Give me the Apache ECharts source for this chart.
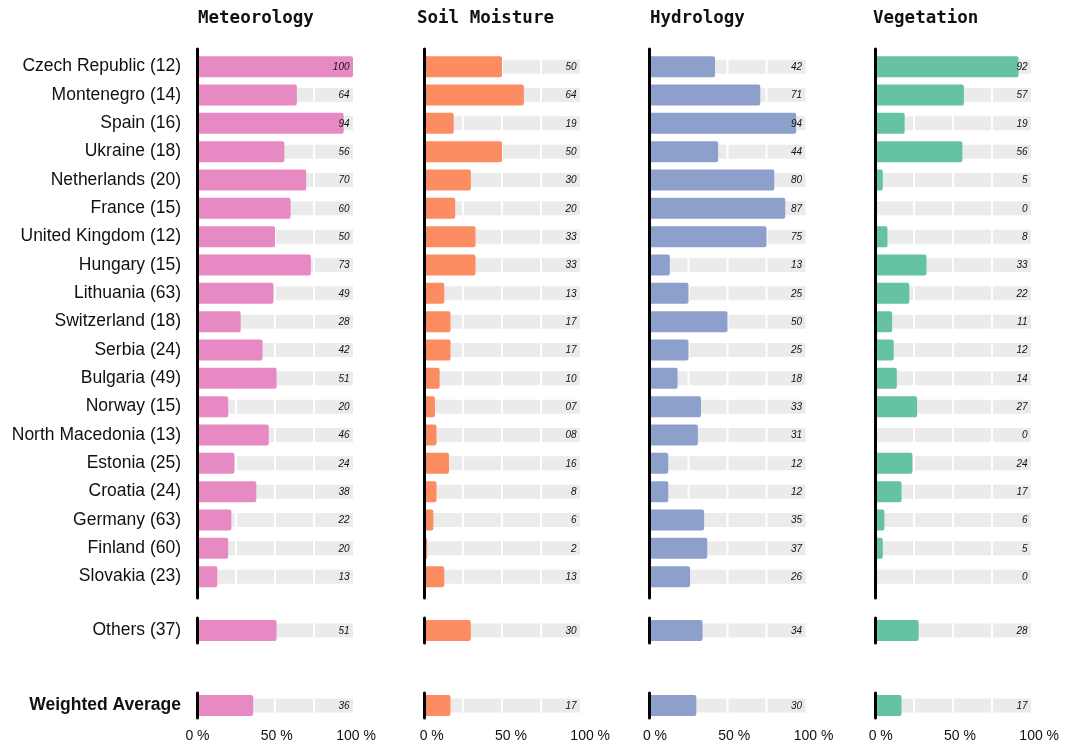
<!DOCTYPE html>
<html><head><meta charset="utf-8">
<script src="https://cdn.jsdelivr.net/npm/echarts@6/dist/echarts.min.js"></script>
<style>html,body{margin:0;padding:0;background:#fff}#c{width:1069px;height:749px}</style>
</head><body><div id="c"></div>
<script>
// ---------- data ----------
const countries = ['Czech Republic (12)','Montenegro (14)','Spain (16)','Ukraine (18)','Netherlands (20)','France (15)','United Kingdom (12)','Hungary (15)','Lithuania (63)','Switzerland (18)','Serbia (24)','Bulgaria (49)','Norway (15)','North Macedonia (13)','Estonia (25)','Croatia (24)','Germany (63)','Finland (60)','Slovakia (23)'];
const othersLabel = ['Others (37)'];
const averageLabel = ['Weighted Average'];
const panelTitles = ['Meteorology','Soil Moisture','Hydrology','Vegetation'];
const xTicks = [0, 50, 100];

const meteorology        = ['100','64','94','56','70','60','50','73','49','28','42','51','20','46','24','38','22','20','13'];
const meteorologyOthers  = ['51'];
const meteorologyAverage = ['36'];
const soilMoisture        = ['50','64','19','50','30','20','33','33','13','17','17','10','07','08','16','8','6','2','13'];
const soilMoistureOthers  = ['30'];
const soilMoistureAverage = ['17'];
const hydrology        = ['42','71','94','44','80','87','75','13','25','50','25','18','33','31','12','12','35','37','26'];
const hydrologyOthers  = ['34'];
const hydrologyAverage = ['30'];
const vegetation        = ['92','57','19','56','5','0','8','33','22','11','12','14','27','0','24','17','6','5','0'];
const vegetationOthers  = ['28'];
const vegetationAverage = ['17'];

// ---------- style / layout ----------
const colors = ['#e78ac3','#fc8d62','#8da0cb','#66c2a5'];
const panelLeft = [197, 424, 649.5, 875];
const panelWidth = 156;
const tickLeft = [197.5, 431.7, 655, 880.7];
const tickWidth = 158.5;
const titleLeft = [198, 417, 650, 873];
const FONT = '"Liberation Sans", Arial, Helvetica, sans-serif';

const panels = [
  {main: meteorology, others: meteorologyOthers, avg: meteorologyAverage},
  {main: soilMoisture, others: soilMoistureOthers, avg: soilMoistureAverage},
  {main: hydrology, others: hydrologyOthers, avg: hydrologyAverage},
  {main: vegetation, others: vegetationOthers, avg: vegetationAverage}
];
const sections = [
  {cats: countries, key: 'main', top: 52.5, height: 538.3, showLine: false},
  {cats: othersLabel, key: 'others', top: 618, height: 25, showLine: true},
  {cats: averageLabel, key: 'avg', top: 693, height: 25, showLine: true, bold: true}
];

const grid = [], xAxis = [], yAxis = [], series = [], title = [];

function trackRender(params, api) {
  const idx = api.value(0);
  const py = api.coord([0, idx])[1];
  const h = 14;
  const children = [];
  for (let k = 0; k < 4; k++) {
    const x0 = api.coord([25 * k, idx])[0];
    const x1 = api.coord([25 * (k + 1), idx])[0];
    const a = x0 + (k > 0 ? 1 : 0);
    const b = x1 - (k < 3 ? 1 : 0);
    children.push({type: 'rect', shape: {x: a, y: py - h / 2, width: b - a, height: h}, style: {fill: '#ebebeb'}});
  }
  return {type: 'group', children};
}
function textRenderFor(labels) {
  return function (params, api) {
    const idx = api.value(0);
    const p = api.coord([100, idx]);
    return {type: 'text', style: {text: labels[params.dataIndex], x: p[0] - 3.5, y: p[1] + 0.5, align: 'right', verticalAlign: 'middle', font: 'italic 10px ' + FONT, fill: '#111'}};
  };
}

panels.forEach((pan, p) => {
  title.push({text: panelTitles[p], left: titleLeft[p], top: 9, padding: 0,
    textStyle: {fontFamily: '"DejaVu Sans Mono", monospace', fontWeight: 'bold', fontSize: 17.5, color: '#111'}});
  sections.forEach((sec) => {
    const gi = grid.length;
    grid.push({left: panelLeft[p], width: panelWidth, top: sec.top, height: sec.height});
    xAxis.push({type: 'value', gridIndex: gi, min: 0, max: 100, show: false});
    yAxis.push({type: 'category', gridIndex: gi, inverse: true, data: sec.cats, z: 10,
      axisLine: {show: sec.showLine, lineStyle: {color: '#000', width: 3}},
      axisTick: {show: false}, splitLine: {show: false},
      axisLabel: {show: p === 0, fontSize: 17.5, color: '#111', fontFamily: FONT, margin: 16,
        fontWeight: sec.bold ? 'bold' : 'normal'}});
    const labels = pan[sec.key];
    series.push({type: 'custom', xAxisIndex: gi, yAxisIndex: gi, silent: true, z: 1,
      data: labels.map((v, i) => [i]), encode: {y: 0}, renderItem: trackRender});
    series.push({type: 'bar', xAxisIndex: gi, yAxisIndex: gi, silent: true, z: 2,
      barWidth: 21, data: labels.map(Number),
      itemStyle: {color: colors[p], borderRadius: 2}});
    series.push({type: 'custom', xAxisIndex: gi, yAxisIndex: gi, silent: true, z: 3,
      data: labels.map((v, i) => [i]), encode: {y: 0}, renderItem: textRenderFor(labels)});
  });
  // frame grid: long axis line for the country block
  let gi = grid.length;
  grid.push({left: panelLeft[p], width: panelWidth, top: 49, height: 549});
  xAxis.push({type: 'value', gridIndex: gi, min: 0, max: 100, show: false});
  yAxis.push({type: 'value', gridIndex: gi, min: 0, max: 1, z: 10, axisLine: {show: true, lineStyle: {color: '#000', width: 3}},
    axisTick: {show: false}, axisLabel: {show: false}, splitLine: {show: false}});
  // tick label grid
  gi = grid.length;
  grid.push({left: tickLeft[p], width: tickWidth, top: 720, height: 1});
  xAxis.push({type: 'value', gridIndex: gi, min: xTicks[0], max: xTicks[xTicks.length - 1], interval: xTicks[1] - xTicks[0],
    axisLine: {show: false}, axisTick: {show: false}, splitLine: {show: false},
    axisLabel: {formatter: '{value} %', fontSize: 14, color: '#111', fontFamily: FONT, margin: 8, showMinLabel: true, showMaxLabel: true}});
  yAxis.push({type: 'value', gridIndex: gi, show: false, min: 0, max: 1});
});

const chart = echarts.init(document.getElementById('c'));
chart.setOption({animation: false, backgroundColor: '#fff', title, grid, xAxis, yAxis, series});
</script></body></html>
